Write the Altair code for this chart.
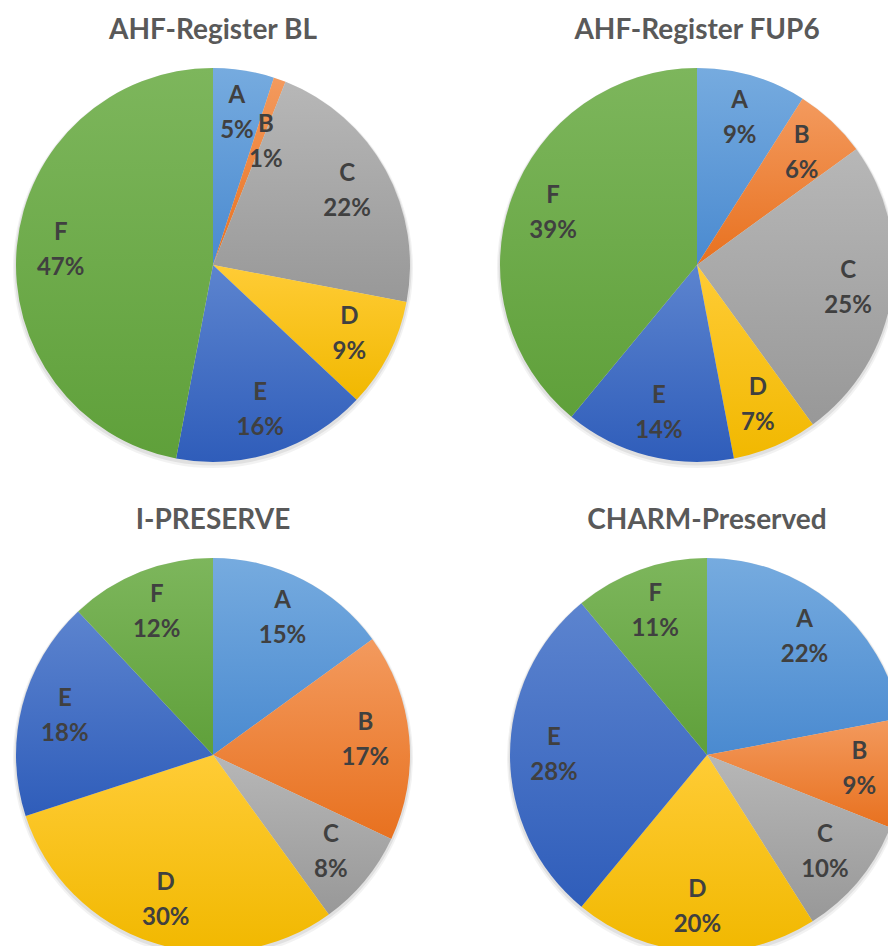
import math
import altair as alt
import pandas as pd

# Category shares (%) for each study
categories = ["A", "B", "C", "D", "E", "F"]
ahf_bl = [5, 1, 22, 9, 16, 47]
ahf_fup6 = [9, 6, 25, 7, 14, 39]
i_preserve = [15, 17, 8, 30, 18, 12]
charm_preserved = [22, 9, 10, 20, 28, 11]

# Slice fills: light top -> darker bottom
top_colors = ["#76ABDF", "#F39A5E", "#B7B7B7", "#FFCC36", "#5C84CF", "#7DB65C"]
bottom_colors = ["#4A8AD0", "#E8711F", "#989898", "#F1B800", "#2F5DBA", "#5FA03A"]

FONT = "Lato"
RADIUS = 197
LINE_HEIGHT = 35
theta_scale = alt.Scale(domain=[0, 100], range=[0, 2 * math.pi])


def gradient(i):
    return alt.Gradient(
        gradient="linear",
        x1=0, y1=0, x2=0, y2=1,
        stops=[
            alt.GradientStop(offset=0, color=top_colors[i]),
            alt.GradientStop(offset=1, color=bottom_colors[i]),
        ],
    )


def pie(values, title, width=426, height=400):
    df = pd.DataFrame({"cat": categories, "value": values})
    base = (
        alt.Chart(df)
        .transform_window(end="sum(value)", sort=[alt.SortField("cat")], frame=[None, 0])
        .transform_calculate(start="datum.end - datum.value")
        .transform_calculate(
            # very thin slices get their label nudged inward and clockwise
            mid="datum.value < 3 ? (datum.start + datum.end) / 2 + 1 : (datum.start + datum.end) / 2",
            label="datum.cat + '\\n' + datum.value + '%'",
            r="datum.value < 3 ? 133 : 153",
        )
    )

    shadow = alt.Chart(pd.DataFrame({"cat": ["all"]}))
    shadow_layers = [
        shadow.mark_arc(theta=0, theta2=2 * math.pi, outerRadius=RADIUS + 3,
                        fill="#000000", opacity=0.05, yOffset=3).encode(color=alt.value("#000000")),
        shadow.mark_arc(theta=0, theta2=2 * math.pi, outerRadius=RADIUS + 1.5,
                        fill="#000000", opacity=0.07, yOffset=2).encode(color=alt.value("#000000")),
    ]

    slices = [
        base.transform_filter(alt.datum.cat == c)
        .mark_arc(outerRadius=RADIUS, fill=gradient(i), stroke=None)
        .encode(
            theta=alt.Theta("start:Q", scale=theta_scale),
            theta2="end:Q",
        )
        for i, c in enumerate(categories)
    ]

    # two-line labels, centred as a block on the slice's label point
    labels = base.mark_text(
        lineBreak="\n", font=FONT, fontWeight="bold", fontSize=24,
        color="#404040", lineHeight=LINE_HEIGHT, align="center", baseline="middle",
        dy=-LINE_HEIGHT / 2,
    ).encode(
        theta=alt.Theta("mid:Q", scale=theta_scale),
        radius=alt.Radius("r:Q", scale=None),
        text="label:N",
    )

    return alt.layer(*shadow_layers, *slices, labels).properties(
        width=width,
        height=height,
        title=alt.TitleParams(
            text=title, font=FONT, fontSize=28, fontWeight="bold",
            color="#595959", offset=20, anchor="middle",
        ),
    )


top_row = alt.hconcat(
    pie(ahf_bl, "AHF-Register BL"),
    pie(ahf_fup6, "AHF-Register FUP6"),
    spacing=58,
)
bottom_row = alt.hconcat(
    pie(i_preserve, "I-PRESERVE"),
    pie(charm_preserved, "CHARM-Preserved"),
    spacing=68,
)

# The right-hand and bottom pies run past the page edge; negative padding
# trims the canvas so they are cut off there.
chart = (
    alt.vconcat(top_row, bottom_row, spacing=39)
    .properties(padding={"left": 0, "top": 17, "right": -32, "bottom": -12}, background="white")
    .configure_view(stroke=None)
)

chart.save("out.html", embed_options={"renderer": "svg", "actions": False})
